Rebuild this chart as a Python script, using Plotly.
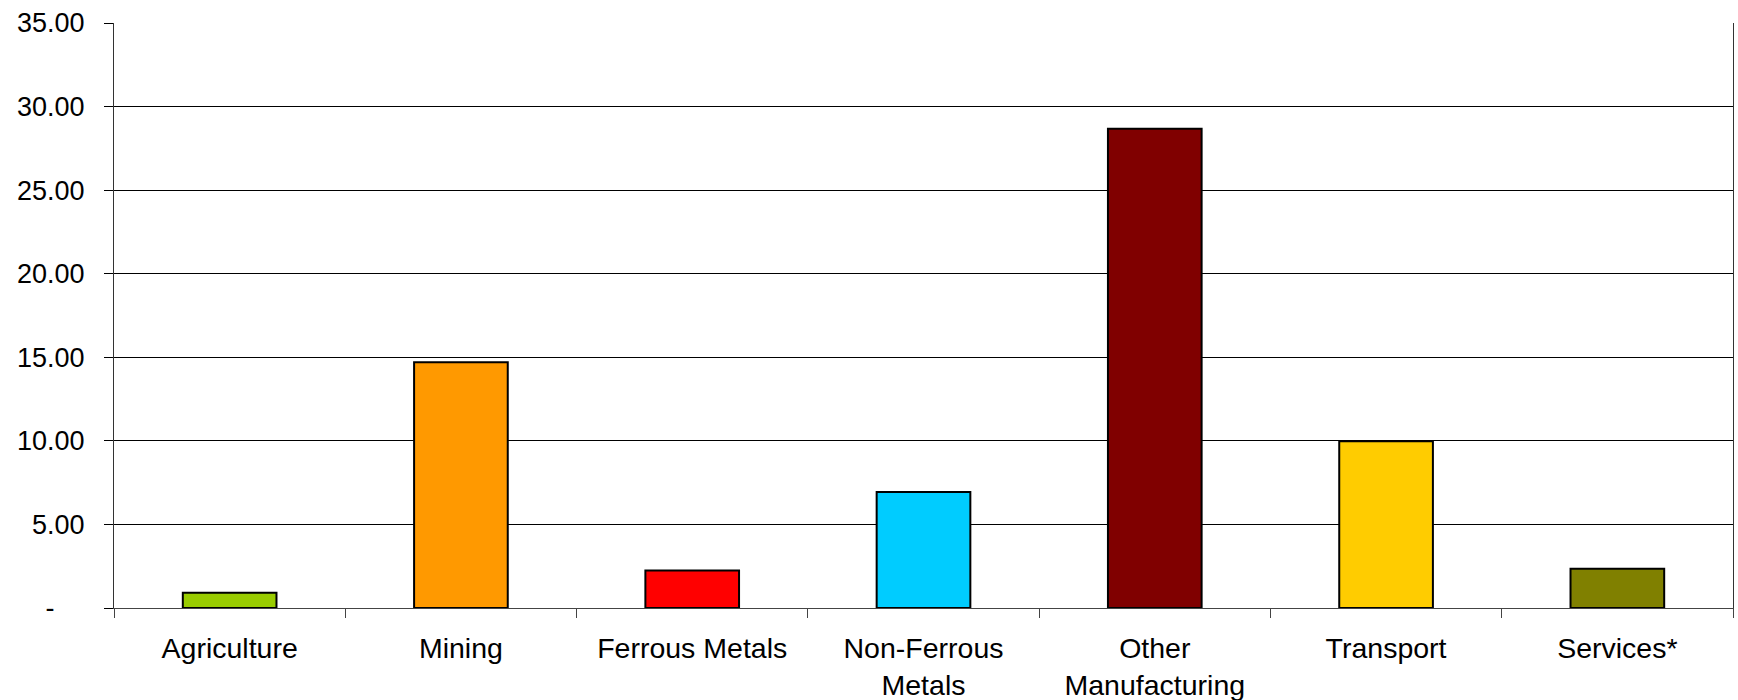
import plotly.graph_objects as go

categories = ["Agriculture", "Mining", "Ferrous Metals", "Non-Ferrous<br>Metals",
              "Other<br>Manufacturing", "Transport", "Services*"]
values = [0.91, 14.71, 2.25, 6.94, 28.67, 9.98, 2.35]
colors = ["#99CC00", "#FF9900", "#FF0000", "#00CCFF", "#800000", "#FFCC00", "#808000"]
y_tickvals = [0, 5, 10, 15, 20, 25, 30, 35]
y_ticktext = ["-\u00a0\u00a0\u00a0\u00a0", "5.00", "10.00", "15.00", "20.00", "25.00", "30.00", "35.00"]

fig = go.Figure()
fig.add_trace(go.Bar(
    x=categories, y=values,
    marker=dict(color=colors, line=dict(color="black", width=2)),
    width=0.405,
))

yfont = dict(family="Liberation Sans, Arial, sans-serif", size=27, color="black")
xfont = dict(family="Liberation Sans, Arial, sans-serif", size=28.5, color="black")

fig.update_layout(
    width=1738, height=700,
    margin=dict(l=114, r=5, t=23, b=92),
    paper_bgcolor="white", plot_bgcolor="white",
    showlegend=False,
    font=yfont,
    xaxis=dict(
        type="category",
        automargin=False,
        showline=True, linecolor="#444", linewidth=1,
        ticks="outside", tickson="boundaries", ticklen=9, tickcolor="#444", tickwidth=1,
        showgrid=False,
        tickfont=xfont,
        ticklabelstandoff=15,
    ),
    yaxis=dict(
        range=[0, 35],
        automargin=False,
        tickvals=y_tickvals, ticktext=y_ticktext,
        showline=True, linecolor="#333", linewidth=1, mirror=True,
        ticks="outside", ticklen=9, tickcolor="black", tickwidth=1,
        showgrid=True, gridcolor="black", gridwidth=1,
        zeroline=False,
        tickfont=yfont,
        ticklabelstandoff=14,
    ),
)

fig.write_html("out.html")
